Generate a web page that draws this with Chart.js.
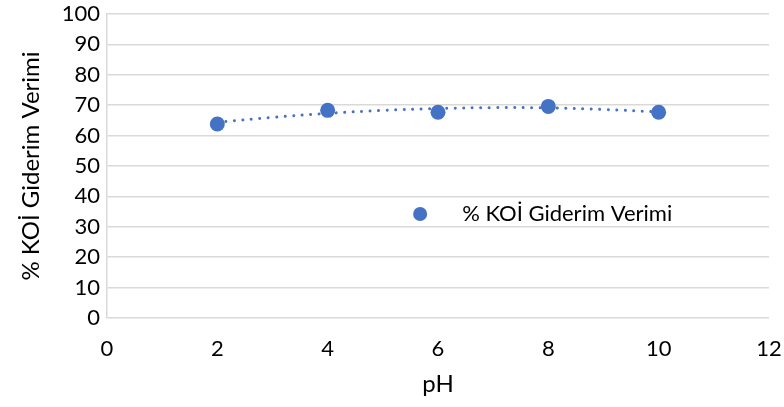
<!DOCTYPE html>
<html>
<head>
<meta charset="utf-8">
<script src="https://cdn.jsdelivr.net/npm/chart.js@4/dist/chart.umd.min.js"></script>
<style>
  html, body { margin: 0; padding: 0; background: #ffffff; }
  #wrap { width: 784px; height: 407px; }
</style>
</head>
<body>
<div id="wrap"><canvas id="c" width="784" height="407"></canvas></div>
<script>
// Data
const pH = [2, 4, 6, 8, 10];
const verim = [63.8, 68.3, 67.7, 69.6, 67.7];
// Dotted trendline as drawn in the reference
const trendX = [2, 3, 4, 5, 6, 7, 8, 9, 10];
const trendY = [64.4, 66.0, 67.3, 68.3, 68.9, 69.2, 69.1, 68.6, 67.8];
const seriesLabel = '% KOİ Giderim Verimi';
const xTitle = 'pH';
const yTitle = '% KOİ Giderim Verimi';

const BLUE = '#4472C4';
const GRID = '#d9d9d9';
const FONT = 'Lato, "Open Sans", sans-serif';
const TICK_SIZE = 22;
const TITLE_SIZE = 24;

const legendPlugin = {
  id: 'innerLegend',
  afterDraw(chart) {
    const a = chart.chartArea;
    const ctx = chart.ctx;
    const mx = a.left + (a.right - a.left) * 0.473;
    const my = a.top + (a.bottom - a.top) * 0.658;
    ctx.save();
    ctx.fillStyle = BLUE;
    ctx.beginPath();
    ctx.arc(mx, my, 7, 0, Math.PI * 2);
    ctx.fill();
    ctx.fillStyle = '#000000';
    ctx.font = TICK_SIZE + 'px ' + FONT;
    ctx.textBaseline = 'middle';
    ctx.textAlign = 'left';
    ctx.fillText(seriesLabel, mx + 42, my);
    ctx.restore();
  }
};

function zeroPad(s) {
  s.paddingLeft = 0; s.paddingRight = 0; s.paddingTop = 0; s.paddingBottom = 0;
}

new Chart(document.getElementById('c'), {
  type: 'scatter',
  data: {
    datasets: [
      {
        label: seriesLabel,
        data: pH.map((x, i) => ({ x: x, y: verim[i] })),
        backgroundColor: BLUE,
        borderWidth: 0,
        pointRadius: 7.5,
        pointHoverRadius: 7.5
      },
      {
        label: 'trend',
        data: trendX.map((x, i) => ({ x: x, y: trendY[i] })),
        showLine: true,
        borderColor: BLUE,
        borderWidth: 3,
        borderDash: [0.01, 8.5],
        borderCapStyle: 'round',
        pointRadius: 0,
        tension: 0.4,
        fill: false
      }
    ]
  },
  plugins: [legendPlugin],
  options: {
    responsive: false,
    animation: false,
    devicePixelRatio: 1,
    layout: { padding: { top: 14, right: 15, bottom: 0, left: 0 } },
    plugins: {
      legend: { display: false },
      tooltip: { enabled: false }
    },
    scales: {
      x: {
        type: 'linear',
        min: 0,
        max: 12,
        ticks: { stepSize: 2, color: '#000', font: { family: FONT, size: TICK_SIZE }, padding: 18 },
        grid: { display: false, drawTicks: false },
        border: { display: false },
        title: { display: true, text: xTitle, color: '#000', font: { family: FONT, size: TITLE_SIZE }, padding: { top: 0, bottom: 8 } },
        afterFit(s) { s.height = 89; zeroPad(s); }
      },
      y: {
        min: 0,
        max: 100,
        ticks: { stepSize: 10, color: '#000', font: { family: FONT, size: TICK_SIZE }, padding: 7 },
        grid: { color: GRID, lineWidth: 1.5, drawTicks: false },
        border: { display: true, color: GRID, width: 1.5 },
        title: { display: true, text: yTitle, color: '#000', font: { family: FONT, size: TITLE_SIZE }, padding: { top: 17, bottom: 0 } },
        afterFit(s) { s.width = 107; zeroPad(s); }
      }
    }
  }
});
</script>
</body>
</html>
